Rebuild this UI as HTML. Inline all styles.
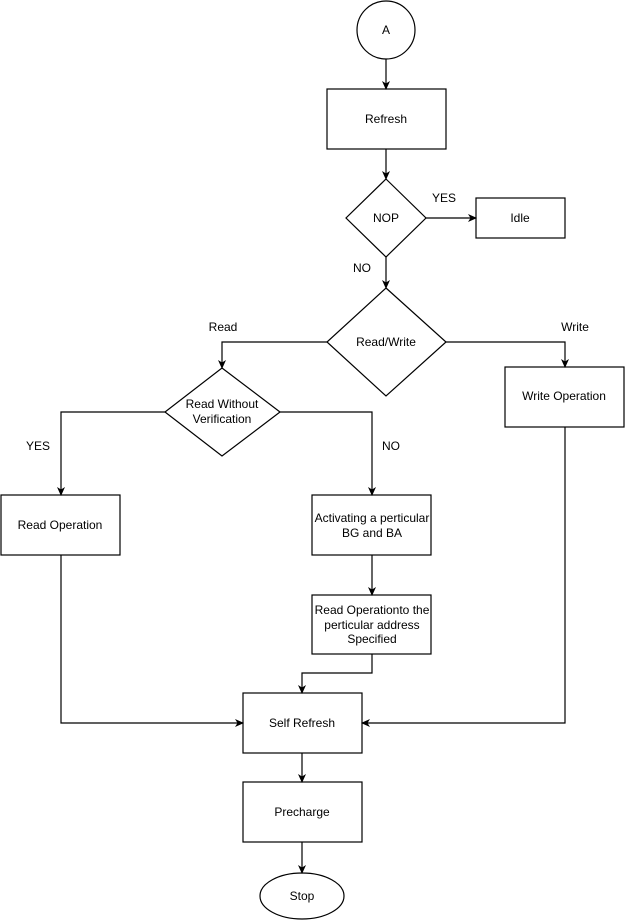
<!DOCTYPE html>
<html><head><meta charset="utf-8"><style>
html,body{margin:0;padding:0;background:#fff;}
svg{display:block;}
text{font-family:"Liberation Sans",Arial,sans-serif;font-size:12px;fill:#000;}
</style></head><body>
<svg width="625" height="923" viewBox="0 0 625 923" xmlns="http://www.w3.org/2000/svg">
<defs><marker id="a" markerWidth="10" markerHeight="10" refX="8" refY="5" orient="auto" markerUnits="userSpaceOnUse"><path d="M0,1 L9,5 L0,9 L2.5,5 Z" fill="#000"/></marker></defs>
<g fill="#fff" stroke="#000" stroke-width="1.2">
<circle cx="386" cy="30" r="29"/>
<rect x="327" y="89" width="119" height="60"/>
<polygon points="386,179 426,218 386,257 346,218"/>
<rect x="476" y="198" width="89" height="40"/>
<polygon points="386,288 446,342 386,396 327,342"/>
<polygon points="222,368 280,412 222,456 165,412"/>
<rect x="505" y="367" width="119" height="60"/>
<rect x="1" y="495" width="119" height="60"/>
<rect x="312" y="495" width="119" height="60"/>
<rect x="312" y="595" width="119" height="59"/>
<rect x="243" y="693" width="119" height="60"/>
<rect x="243" y="782" width="119" height="60"/>
<ellipse cx="302" cy="896" rx="42" ry="23"/>
</g>
<g fill="none" stroke="#000" stroke-width="1.2" marker-end="url(#a)">
<path d="M386,59V89"/>
<path d="M386,149V179"/>
<path d="M426,218H476"/>
<path d="M386,257V288"/>
<path d="M327,342H222V368"/>
<path d="M446,342H565V367"/>
<path d="M165,412H61V495"/>
<path d="M280,412H372V495"/>
<path d="M372,555V595"/>
<path d="M372,654V673H302V693"/>
<path d="M61,555V723H243"/>
<path d="M565,427V723H362"/>
<path d="M302,753V782"/>
<path d="M302,842V873"/>
</g>
<g text-anchor="middle">
<text x="386" y="34">A</text>
<text x="386" y="123">Refresh</text>
<text x="386" y="222">NOP</text>
<text x="520" y="222">Idle</text>
<text x="444" y="202">YES</text>
<text x="362" y="272">NO</text>
<text x="386" y="346">Read/Write</text>
<text x="223" y="331">Read</text>
<text x="575" y="331">Write</text>
<text x="222" y="408">Read Without</text>
<text x="222" y="423">Verification</text>
<text x="564" y="400">Write Operation</text>
<text x="38" y="450">YES</text>
<text x="391" y="450">NO</text>
<text x="60" y="529">Read Operation</text>
<text x="372" y="522">Activating a perticular</text>
<text x="372" y="537">BG and BA</text>
<text x="372" y="614">Read Operationto the</text>
<text x="372" y="629">perticular address</text>
<text x="372" y="643">Specified</text>
<text x="302" y="727">Self Refresh</text>
<text x="302" y="816">Precharge</text>
<text x="302" y="900">Stop</text>
</g>
</svg>
</body></html>
